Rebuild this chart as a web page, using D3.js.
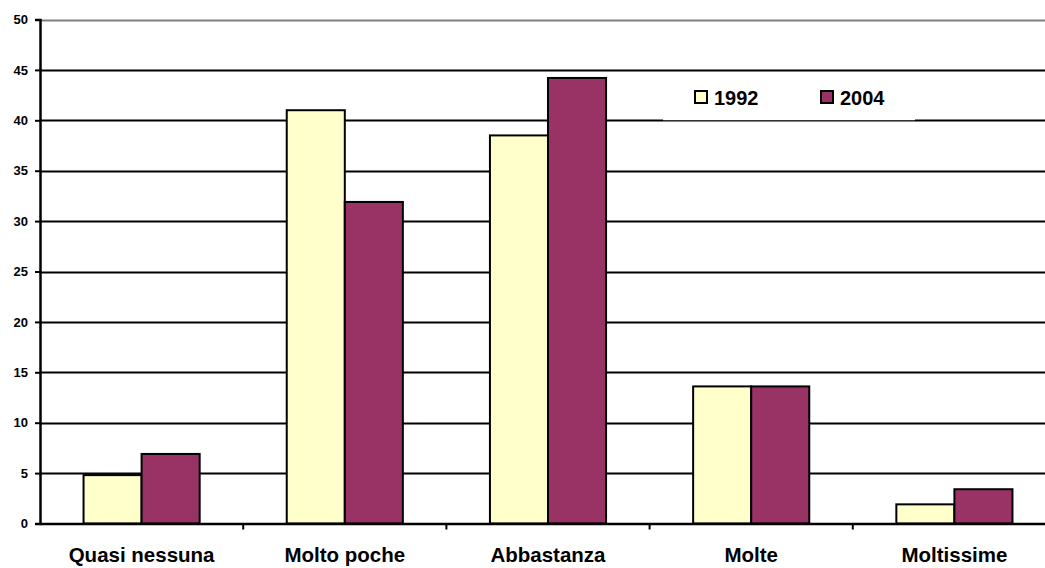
<!DOCTYPE html>
<html>
<head>
<meta charset="utf-8">
<script src="https://cdn.jsdelivr.net/npm/d3@7"></script>
<style>
  html, body { margin: 0; padding: 0; background: #fff; overflow: hidden; }
  svg { display: block; font-family: Arial, "Liberation Sans", sans-serif; }
</style>
</head>
<body>
<svg id="chart" width="1045" height="568"></svg>
<script>
const categories = ['Quasi nessuna', 'Molto poche', 'Abbastanza', 'Molte', 'Moltissime'];
const series = ['1992', '2004'];
const values1992 = [4.8, 41, 38.5, 13.6, 1.9];
const values2004 = [6.9, 31.9, 44.2, 13.6, 3.4];
const yTicks = [0, 5, 10, 15, 20, 25, 30, 35, 40, 45, 50];

const colors = {'1992': '#ffffcc', '2004': '#993366'};

const svg = d3.select('#chart');
const plotL = 40, plotR = 1056, plotT = 19.5, plotB = 523.5;

const x = d3.scaleBand().domain(categories).range([plotL, plotR]);
const y = d3.scaleLinear().domain([0, 50]).range([plotB, plotT]);
// excel style: gap width 150%
const barW = x.bandwidth() / 3.5;
const xs = d3.scaleBand().domain(series).range([0, barW * 2]);

// gridlines
svg.append('g')
  .selectAll('line')
  .data(yTicks.filter(d => d > 0))
  .join('line')
  .attr('x1', plotL).attr('x2', plotR)
  .attr('y1', d => Math.round(y(d)) + 0.5)
  .attr('y2', d => Math.round(y(d)) + 0.5)
  .attr('stroke', d => d === 50 ? '#808080' : '#000')
  .attr('stroke-width', 2);

// legend box (hides gridline beneath)
const legend = svg.append('g');
legend.append('rect')
  .attr('x', 663).attr('y', 72).attr('width', 252).attr('height', 48)
  .attr('fill', '#fff');
legend.append('line')
  .attr('x1', 663).attr('x2', 915).attr('y1', 120.5).attr('y2', 120.5)
  .attr('stroke', '#333').attr('stroke-width', 1);

const data = categories.map((c, i) => ({cat: c, v: {'1992': values1992[i], '2004': values2004[i]}}));

const groups = svg.append('g')
  .selectAll('g')
  .data(data)
  .join('g')
  .attr('transform', d => `translate(${x(d.cat) + (x.bandwidth() - barW * 2) / 2},0)`);

groups.selectAll('rect')
  .data(d => series.map(s => ({s, v: d.v[s]})))
  .join('rect')
  .attr('x', d => xs(d.s))
  .attr('y', d => y(d.v))
  .attr('width', xs.bandwidth())
  .attr('height', d => y(0) - y(d.v))
  .attr('fill', d => colors[d.s])
  .attr('stroke', '#000')
  .attr('stroke-width', 2);

// y axis
const yAxis = svg.append('g')
  .attr('transform', `translate(${plotL},0)`)
  .call(d3.axisLeft(y).tickValues(yTicks).tickSize(5).tickPadding(7));
yAxis.select('.domain').attr('stroke-width', 2.5);
yAxis.selectAll('.tick line').attr('stroke-width', 2);
yAxis.selectAll('text')
  .attr('font-size', 13).attr('font-weight', 'bold').attr('fill', '#000')
  .attr('font-family', 'Arial, "Liberation Sans", sans-serif');

// x axis
const xAxis = svg.append('g')
  .attr('transform', `translate(0,${plotB})`)
  .call(d3.axisBottom(x).tickSize(0).tickPadding(24));
xAxis.select('.domain').attr('stroke-width', 2.5);
xAxis.selectAll('text')
  .attr('font-size', 20.5).attr('font-weight', 'bold').attr('fill', '#000')
  .attr('font-family', 'Arial, "Liberation Sans", sans-serif');
xAxis.selectAll('line.sep')
  .data(categories.slice(1))
  .join('line')
  .attr('class', 'sep')
  .attr('x1', d => x(d)).attr('x2', d => x(d))
  .attr('y1', 0).attr('y2', 6)
  .attr('stroke', '#000').attr('stroke-width', 2);

// legend items
const items = legend.selectAll('g.item')
  .data(series)
  .join('g')
  .attr('class', 'item')
  .attr('transform', (d, i) => `translate(${695 + i * 126},91)`);
items.append('rect')
  .attr('width', 12).attr('height', 12)
  .attr('fill', d => colors[d])
  .attr('stroke', '#000').attr('stroke-width', 2);
items.append('text')
  .attr('x', 19).attr('y', 14)
  .attr('font-size', 20).attr('font-weight', 'bold')
  .text(d => d);
</script>
</body>
</html>
